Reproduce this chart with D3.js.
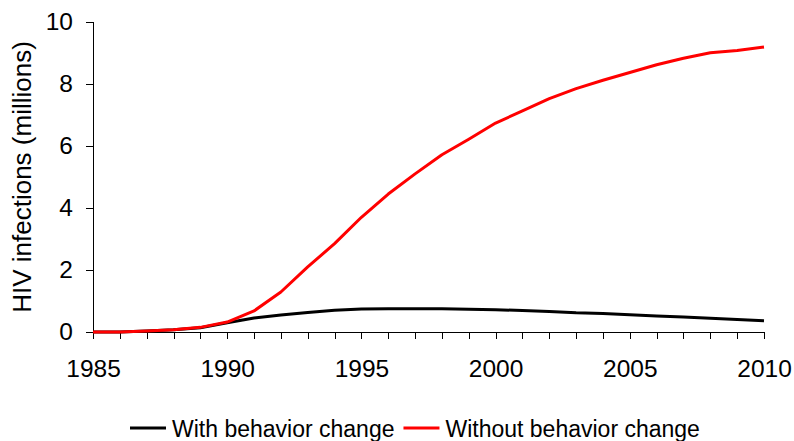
<!DOCTYPE html>
<html lang="en">
<head>
  <script src="https://d3js.org/d3.v7.min.js"></script>
  <meta charset="UTF-8">
  <title>HIV infections</title>
  <style>
    body { margin: 0; background: #fff; }
    text { font-family: "Liberation Sans", Arial, sans-serif; fill: #000; }
    .axis path, .axis line { stroke: #000; stroke-width: 1; shape-rendering: crispEdges; }
  </style>
</head>
<body>
  <svg id="chart" width="794" height="441"></svg>
  <script>
    // data
    const years = d3.range(1985, 2011);
    const withChange = [0, 0, 0.03, 0.07, 0.14, 0.3, 0.45, 0.55, 0.63, 0.7, 0.74, 0.75, 0.75, 0.75,
      0.73, 0.72, 0.69, 0.66, 0.62, 0.6, 0.56, 0.52, 0.48, 0.44, 0.4, 0.36];
    const withoutChange = [0, 0, 0.03, 0.07, 0.15, 0.32, 0.68, 1.29, 2.1, 2.85, 3.7, 4.45, 5.1, 5.72,
      6.22, 6.74, 7.13, 7.53, 7.85, 8.12, 8.37, 8.62, 8.83, 9.01, 9.08, 9.19];
    const seriesNames = ["With behavior change", "Without behavior change"];
    const seriesColors = ["#000000", "#ff0000"];
    const yTicks = [0, 2, 4, 6, 8, 10];

    const svg = d3.select("#chart");
    const margin = { top: 22, right: 30, bottom: 109, left: 93 };
    const width = 794 - margin.left - margin.right;
    const height = 441 - margin.top - margin.bottom;

    const x = d3.scaleLinear().domain([1985, 2010]).range([0, width]);
    const y = d3.scaleLinear().domain([0, 10]).range([height, 0]);

    const g = svg.append("g").attr("transform", `translate(${margin.left},${margin.top})`);

    // x axis, a tick every year, label every five
    g.append("g")
      .attr("class", "axis x")
      .attr("transform", `translate(0,${height})`)
      .call(d3.axisBottom(x).tickValues(years).tickSizeOuter(0).tickSize(7).tickPadding(21)
        .tickFormat(d => d % 5 === 0 ? d : ""))
      .selectAll("text").style("font-size", "24.5px");

    // y axis
    g.append("g")
      .attr("class", "axis y")
      .call(d3.axisLeft(y).tickValues(yTicks).tickSizeOuter(0).tickSize(7).tickPadding(13))
      .selectAll("text").style("font-size", "24.5px");

    svg.append("text")
      .attr("transform", `translate(31,${margin.top + height / 2}) rotate(-90)`)
      .attr("text-anchor", "middle")
      .style("font-size", "26px")
      .text("HIV infections (millions)");

    const line = d3.line()
      .x((d, i) => x(years[i]))
      .y(d => y(d));

    const series = [withChange, withoutChange];
    g.selectAll("path.series")
      .data(series)
      .join("path")
      .attr("class", "series")
      .attr("fill", "none")
      .attr("stroke", (d, i) => seriesColors[i])
      .attr("stroke-width", 3)
      .attr("stroke-linejoin", "round")
      .attr("d", line);

    // legend
    const legend = svg.append("g").attr("transform", "translate(130,428)");
    let lx = 0;
    seriesNames.forEach((name, i) => {
      const item = legend.append("g").attr("transform", `translate(${lx},0)`);
      item.append("line")
        .attr("x1", 0).attr("x2", 36).attr("y1", 0).attr("y2", 0)
        .attr("stroke", seriesColors[i]).attr("stroke-width", 3);
      const t = item.append("text")
        .attr("x", 42).attr("y", 9)
        .style("font-size", "23px")
        .text(name);
      lx += 42 + t.node().getComputedTextLength() + 9;
    });
  </script>
</body>
</html>
